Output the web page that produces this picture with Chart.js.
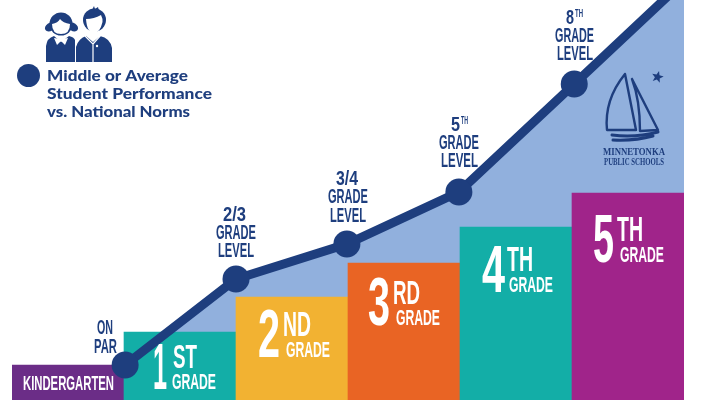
<!DOCTYPE html>
<html><head><meta charset="utf-8">
<style>html,body{margin:0;padding:0;background:#fff}canvas{display:block}</style>
<script src="https://cdn.jsdelivr.net/npm/chart.js@4"></script>
</head><body>
<canvas id="c" width="717" height="400" style="width:717px;height:400px"></canvas>
<script>
const categories = ["KINDERGARTEN","1ST GRADE","2ND GRADE","3RD GRADE","4TH GRADE","5TH GRADE"];
const barPositions = [0.5,1.5,2.5,3.5,4.5,5.5];
const barValues = [8.75,17,25.75,34.25,43.25,51.75];
const barColors = ["#6B2D87","#13AEA7","#F2B232","#E96424","#13AEA7","#A0248A"];
const performanceLabels = ["ON PAR","2/3 GRADE LEVEL","3/4 GRADE LEVEL","5TH GRADE LEVEL","8TH GRADE LEVEL",""];
const performancePositions = [1.01,2,2.99,3.99,5.02,6];
const performanceValues = [8.75,30.25,39,52,79,104.75];
const legendLines = ["Middle or Average","Student Performance","vs. National Norms"];
const NAVY="#1E3E7E", SKY="#91B0DD";
const COND='"Liberation Sans Narrow","Liberation Sans",sans-serif';

function fit(ctx,s,x0,x1,base,cap,color,family,weight,capRatio){
  ctx.save();
  ctx.font=(weight||"bold")+" "+(cap/(capRatio||0.67))+"px "+(family||COND);
  ctx.fillStyle=color;ctx.textBaseline="alphabetic";ctx.textAlign="left";
  const w=ctx.measureText(s).width;
  ctx.translate(x0,base);ctx.scale((x1-x0)/w,1);ctx.fillText(s,0,0);
  ctx.restore();
}
const T=[
 ["ON",97,113,334,13,NAVY],["PAR",94,117,353,13,NAVY],
 ["2/3",223,246,221,13,NAVY],["GRADE",216,256,239,13,NAVY],["LEVEL",218,254,257,13,NAVY],
 ["3/4",336,358,185,13,NAVY],["GRADE",328,368,203,13,NAVY],["LEVEL",330,366,222,13,NAVY],
 ["5",451,460,131,14,NAVY],["TH",461,468,124,7,NAVY],["GRADE",439,479,149,13,NAVY],["LEVEL",441,478,167,13,NAVY],
 ["8",566,574,24,14,NAVY],["TH",575,583,17,7,NAVY],["GRADE",555,594,42,13,NAVY],["LEVEL",557,593,60,13,NAVY],
 ["KINDERGARTEN",23,114,390,13,"#fff"],
 ["1",153,167,389,44,"#fff"],["ST",173,197,368,22,"#fff"],["GRADE",172,216,389,15,"#fff"],
 ["2",258,280,357,46,"#fff"],["ND",283,311,336,24,"#fff"],["GRADE",286,330,357,15,"#fff"],
 ["3",368,390,325,46,"#fff"],["RD",393,420,304,22,"#fff"],["GRADE",396,440,325,15,"#fff"],
 ["4",482,505,292,45,"#fff"],["TH",507,533,271,24,"#fff"],["GRADE",509,553,292,15,"#fff"],
 ["5",593,614,262,46,"#fff"],["TH",617,643,241,24,"#fff"],["GRADE",620,664,262,15,"#fff"]
];
function kids(c){
  c.save();c.fillStyle=NAVY;
  c.beginPath();c.ellipse(50,27,5.5,4,-0.6,0,7);c.fill();
  c.beginPath();c.ellipse(73,27,5.5,4,0.6,0,7);c.fill();
  c.beginPath();c.arc(61,24,11.5,0,7);c.fill();
  c.fillStyle="#fff";c.beginPath();c.moveTo(52,24);c.quadraticCurveTo(58,23,60,19);c.quadraticCurveTo(63,23,70,24);c.quadraticCurveTo(70,34,61,34);c.quadraticCurveTo(52,34,52,24);c.fill();
  c.fillStyle=NAVY;c.beginPath();c.moveTo(46,62);c.lineTo(46,46);c.quadraticCurveTo(47,38,54,36);c.lineTo(61,42);c.lineTo(69,36);c.quadraticCurveTo(74,37,75,40);c.lineTo(75,62);c.closePath();c.fill();
  c.fillStyle="#fff";c.beginPath();c.moveTo(54,38);c.lineTo(61,39);c.lineTo(68,38);c.lineTo(65,45);c.lineTo(61,41);c.lineTo(57,45);c.closePath();c.fill();
  c.fillStyle=NAVY;c.beginPath();c.arc(94.5,20,11.5,0,7);c.fill();
  c.beginPath();c.moveTo(92,10);c.lineTo(94,6);c.lineTo(95,9);c.lineTo(98,7);c.lineTo(99,11);c.fill();
  c.fillStyle="#fff";c.beginPath();c.moveTo(86,19);c.quadraticCurveTo(94,19,101,15);c.quadraticCurveTo(103,19,102.5,22);c.quadraticCurveTo(100,33,94,33);c.quadraticCurveTo(87,33,86,19);c.fill();
  c.fillStyle=NAVY;c.beginPath();c.moveTo(76,62);c.lineTo(76,47);c.quadraticCurveTo(78,39,86,36);c.lineTo(93,42);c.lineTo(100,36);c.quadraticCurveTo(110,38,112,48);c.lineTo(112,62);c.closePath();c.fill();
  c.strokeStyle="#fff";c.lineWidth=1.2;c.beginPath();c.moveTo(85,36);c.lineTo(93,44);c.lineTo(93,62);c.moveTo(101,35);c.lineTo(93,44);c.stroke();
  c.fillStyle="#fff";c.beginPath();c.arc(97,46,1.2,0,7);c.fill();
  c.restore();
}
function boat(c){
  c.save();c.strokeStyle=NAVY;c.fillStyle=NAVY;c.lineWidth=2.4;c.lineJoin="round";c.lineCap="round";
  c.beginPath();c.moveTo(625,74);c.quadraticCurveTo(604,100,607,130);c.lineTo(636,130);c.closePath();c.stroke();
  c.beginPath();c.moveTo(632,79);c.lineTo(658,130);c.lineTo(640,131);c.quadraticCurveTo(640,100,632,79);c.stroke();
  c.lineWidth=3;
  c.beginPath();c.moveTo(612,135);c.quadraticCurveTo(635,138,658,132);c.moveTo(613,140);c.quadraticCurveTo(635,141,653,136);c.stroke();
  c.beginPath();
  for(let i=0;i<10;i++){const r=i%2?2.6:6.2,a=-Math.PI/2+0.25+i*Math.PI/5;const x=657.5+r*Math.cos(a),y=77+r*Math.sin(a);i?c.lineTo(x,y):c.moveTo(x,y);}
  c.closePath();c.fill();
  c.restore();
  fit(c,"MINNETONKA",603,665,155,7.5,NAVY,'"Liberation Serif",serif',"bold",0.66);
  fit(c,"PUBLIC SCHOOLS",604,664,165,6.5,NAVY,'"Liberation Serif",serif',"bold",0.66);
}
const decor={id:"decor",afterDatasetsDraw(ch){
  const c=ch.ctx;
  kids(c);
  c.save();c.fillStyle=NAVY;c.beginPath();c.arc(28.5,75.5,11.5,0,7);c.fill();c.restore();
  const F='Lato,"Open Sans",sans-serif';
  fit(c,legendLines[0],47,188,81,10.5,NAVY,F,"900",0.72);
  fit(c,legendLines[1],47,212,98.5,10.5,NAVY,F,"900",0.72);
  fit(c,legendLines[2],47,190,116.5,10.5,NAVY,F,"900",0.72);
  boat(c);
  T.forEach(t=>fit(c,t[0],t[1],t[2],t[3],t[4],t[5]));
}};
new Chart(document.getElementById("c"),{
  type:"bar",
  data:{datasets:[
    {type:"line",label:"Student performance",order:1,
     data:performancePositions.map((x,i)=>({x,y:performanceValues[i]})),
     borderColor:NAVY,borderWidth:9,backgroundColor:SKY,fill:"origin",tension:0,
     pointBackgroundColor:NAVY,pointBorderColor:NAVY,pointBorderWidth:0,
     pointRadius:performanceValues.map((v,i)=>i<5?13.5:0),pointHoverRadius:0},
    {type:"bar",label:"Grade",order:2,
     data:barPositions.map((x,i)=>({x,y:barValues[i]})),
     backgroundColor:barColors,borderWidth:0,barPercentage:1,categoryPercentage:1}
  ]},
  options:{responsive:false,animation:false,
    layout:{autoPadding:false,padding:{left:12,right:33,top:0,bottom:0}},
    plugins:{legend:{display:false},tooltip:{enabled:false},filler:{drawTime:"beforeDatasetsDraw"}},
    scales:{
      x:{type:"linear",min:0,max:6,offset:false,display:false},
      y:{min:0,max:100,display:false}
    }
  },
  plugins:[decor]
});
</script>
</body></html>
